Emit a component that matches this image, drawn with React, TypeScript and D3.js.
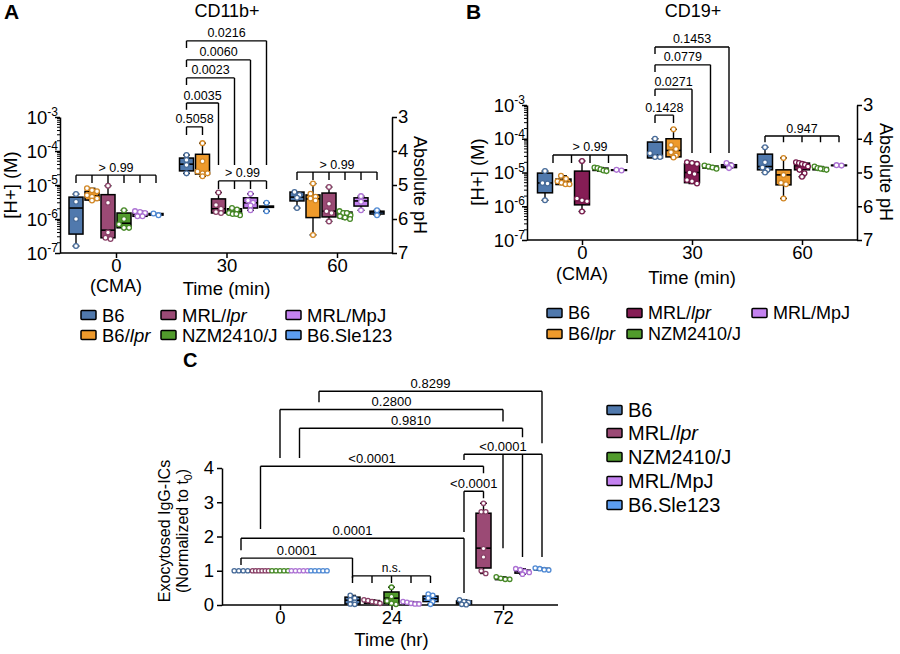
import { useEffect, useRef } from 'react'
import * as d3 from 'd3'

const timesAB = ['0', '30', '60']
const timesC = ['0', '24', '72']
const strainsA = ['B6', 'B6/lpr', 'MRL/lpr', 'NZM2410/J', 'MRL/MpJ', 'B6.Sle123']
const strainsB = ['B6', 'B6/lpr', 'MRL/lpr', 'NZM2410/J', 'MRL/MpJ']
const strainsC = ['B6', 'MRL/lpr', 'NZM2410/J', 'MRL/MpJ', 'B6.Sle123']

const strainColor: Record<string, string> = {
  B6: '#5079ad',
  'B6/lpr': '#ee9a2c',
  'MRL/lpr': '#9b4a75',
  'NZM2410/J': '#519b2c',
  'MRL/MpJ': '#c482f0',
  'B6.Sle123': '#5b9cf0',
}
const strainColorB: Record<string, string> = { ...strainColor, 'MRL/lpr': '#861d55' }

type Box = { q: number[]; pts: number[] }

// CD11b+ [H+] (M): q = [q1, median, q3]
const cd11b_0: Box[] = [
  { q: [3.6e-7, 2.1e-6, 4.4e-6], pts: [5.4e-6, 3.2e-6, 1.0e-6, 1.6e-7] },
  { q: [3.6e-6, 4.8e-6, 6.5e-6], pts: [8.0e-6, 7.0e-6, 6.5e-6, 5.0e-6, 4.5e-6, 4.0e-6, 3.5e-6] },
  { q: [2.8e-7, 4.7e-7, 5.2e-6], pts: [9.5e-6, 3.0e-6, 4.0e-7, 2.8e-7, 2.6e-7] },
  { q: [5.5e-7, 7.5e-7, 1.5e-6], pts: [1.8e-6, 1.0e-6, 7.0e-7, 5.5e-7, 5.5e-7] },
  { q: [1.2e-6, 1.4e-6, 1.6e-6], pts: [1.7e-6, 1.6e-6, 1.5e-6, 1.2e-6, 1.2e-6] },
  { q: [1.3e-6, 1.4e-6, 1.45e-6], pts: [1.45e-6, 1.3e-6] },
]
const cd11b_30: Box[] = [
  { q: [2.6e-5, 4.1e-5, 6.2e-5], pts: [7.6e-5, 5.4e-5, 3.9e-5, 2.2e-5] },
  { q: [2.1e-5, 2.4e-5, 8.0e-5], pts: [1.7e-4, 5.0e-5, 2.5e-5, 2.2e-5, 2.2e-5, 1.8e-5] },
  { q: [1.5e-6, 2.0e-6, 3.9e-6], pts: [6.0e-6, 2.6e-6, 2.0e-6, 1.6e-6, 1.5e-6] },
  { q: [1.4e-6, 1.6e-6, 2.0e-6], pts: [2.1e-6, 1.9e-6, 1.5e-6, 1.4e-6, 1.3e-6, 1.4e-6] },
  { q: [2.1e-6, 3.0e-6, 4.2e-6], pts: [5.5e-6, 3.5e-6, 3.0e-6, 2.5e-6, 1.8e-6] },
  { q: [2.2e-6, 2.3e-6, 2.4e-6], pts: [3.0e-6, 1.7e-6] },
]
const cd11b_60: Box[] = [
  { q: [3.4e-6, 4.4e-6, 6.2e-6], pts: [6.2e-6, 5.1e-6, 4.2e-6, 2.1e-6] },
  { q: [1.1e-6, 3.9e-6, 5.1e-6], pts: [1.1e-5, 5.5e-6, 4.5e-6, 4.0e-6, 3.5e-6, 3.4e-7] },
  { q: [1.15e-6, 1.7e-6, 5.8e-6], pts: [8.7e-6, 2.8e-6, 1.7e-6, 1.5e-6, 8.5e-7] },
  { q: [1.1e-6, 1.2e-6, 1.6e-6], pts: [1.7e-6, 1.5e-6, 1.3e-6, 1.2e-6, 1.1e-6, 1.0e-6, 1.5e-6] },
  { q: [2.4e-6, 3.4e-6, 4.2e-6], pts: [4.7e-6, 3.2e-6, 1.8e-6] },
  { q: [1.4e-6, 1.6e-6, 1.7e-6], pts: [1.8e-6, 1.3e-6] },
]

// CD19+ [H+] (M)
const cd19_0: Box[] = [
  { q: [2.5e-6, 4.9e-6, 9.6e-6], pts: [1.1e-5, 4.9e-6, 4.7e-6, 1.5e-6] },
  { q: [4.4e-6, 5.2e-6, 6.4e-6], pts: [8.0e-6, 6.5e-6, 5.5e-6, 5.0e-6, 4.5e-6, 4.5e-6] },
  { q: [1.1e-6, 1.5e-6, 1.1e-5], pts: [2.2e-5, 1.7e-6, 1.5e-6, 1.4e-6, 7.0e-7] },
  { q: [1.15e-5, 1.25e-5, 1.35e-5], pts: [1.4e-5, 1.35e-5, 1.25e-5, 1.15e-5, 1.1e-5] },
  { q: [1.15e-5, 1.18e-5, 1.2e-5], pts: [1.2e-5, 1.15e-5] },
]
const cd19_30: Box[] = [
  { q: [2.7e-5, 3.3e-5, 8.0e-5], pts: [1.0e-4, 3.7e-5, 2.9e-5, 2.9e-5] },
  { q: [2.9e-5, 4.5e-5, 1.0e-4], pts: [1.9e-4, 6.5e-5, 5.0e-5, 4.0e-5, 3.2e-5, 2.8e-5] },
  { q: [5.0e-6, 1.0e-5, 1.8e-5], pts: [2.0e-5, 1.9e-5, 1.8e-5, 1.0e-5, 9.0e-6, 6.0e-6, 5.5e-6, 4.7e-6] },
  { q: [1.35e-5, 1.45e-5, 1.55e-5], pts: [1.6e-5, 1.5e-5, 1.4e-5, 1.3e-5] },
  { q: [1.4e-5, 1.55e-5, 1.7e-5], pts: [1.9e-5, 1.6e-5, 1.35e-5] },
]
const cd19_60: Box[] = [
  { q: [1.2e-5, 1.5e-5, 3.5e-5], pts: [5.6e-5, 2.0e-5, 1.4e-5, 1.2e-5, 1.0e-5] },
  { q: [4.3e-6, 8.5e-6, 1.2e-5], pts: [2.7e-5, 8.5e-6, 5.0e-6, 4.5e-6, 1.7e-6] },
  { q: [1.2e-5, 1.6e-5, 1.9e-5], pts: [2.0e-5, 1.9e-5, 1.8e-5, 1.7e-5, 1.5e-5, 1.2e-5, 9.5e-6, 7.5e-6] },
  { q: [1.2e-5, 1.3e-5, 1.4e-5], pts: [1.5e-5, 1.35e-5, 1.25e-5, 1.2e-5, 1.3e-5] },
  { q: [1.6e-5, 1.62e-5, 1.65e-5], pts: [1.65e-5, 1.6e-5] },
]

// Exocytosed IgG-ICs (normalized to t0)
const exo_0: Box[] = [
  { q: [1, 1, 1], pts: [1, 1, 1, 1] },
  { q: [1, 1, 1], pts: [1, 1, 1, 1, 1, 1] },
  { q: [1, 1, 1], pts: [1, 1, 1, 1, 1] },
  { q: [1, 1, 1], pts: [1, 1, 1, 1, 1] },
  { q: [1, 1, 1], pts: [1, 1, 1, 1, 1] },
]
const exo_24: Box[] = [
  { q: [0.03, 0.14, 0.23], pts: [0.28, 0.2, 0.15, 0.08, 0.03, 0.02] },
  { q: [0.05, 0.1, 0.13], pts: [0.15, 0.13, 0.1, 0.08, 0.05] },
  { q: [0.05, 0.2, 0.38], pts: [0.52, 0.25, 0.12, 0.05, 0.02] },
  { q: [0.03, 0.06, 0.08], pts: [0.1, 0.08, 0.05, 0.03, 0.03] },
  { q: [0.1, 0.18, 0.26], pts: [0.32, 0.28, 0.2, 0.1, 0.02] },
]
const exo_72: Box[] = [
  { q: [0.03, 0.08, 0.12], pts: [0.15, 0.1, 0.08, 0.02, 0.01] },
  { q: [1.08, 1.66, 2.68], pts: [2.97, 2.72, 2.72, 1.65, 1.4, 1.0, 0.92] },
  { q: [0.74, 0.77, 0.8], pts: [0.82, 0.78, 0.75, 0.75] },
  { q: [0.93, 0.98, 1.02], pts: [1.06, 1.03, 0.98, 0.95, 0.9] },
  { q: [1.02, 1.05, 1.07], pts: [1.08, 1.06, 1.03, 1.02] },
]

// significance brackets: ticks = [timeIndex, strainIndex]; top/legs in axis units (log10 for A, B)
type Bracket = { p: string; ticks: number[][]; top: number; legs: number[]; dx?: number }

const bracketsA: Bracket[] = [
  { p: '> 0.99', ticks: [[0, 0], [0, 1], [0, 2], [0, 3], [0, 4], [0, 5]], top: -4.71, legs: [-4.94, -4.94, -4.94, -4.94, -4.94, -4.94] },
  { p: '0.5058', ticks: [[1, 0], [1, 1]], top: -3.29, legs: [-3.53, -3.53] },
  { p: '0.0035', ticks: [[1, 0], [1, 2]], top: -2.59, legs: [-2.79, -4.41] },
  { p: '0.0023', ticks: [[1, 0], [1, 3]], top: -1.85, legs: [-2.06, -4.41] },
  { p: '0.0060', ticks: [[1, 0], [1, 4]], top: -1.32, legs: [-1.53, -4.41] },
  { p: '0.0216', ticks: [[1, 0], [1, 5]], top: -0.76, legs: [-0.97, -4.41] },
  { p: '> 0.99', ticks: [[1, 2], [1, 3], [1, 4], [1, 5]], top: -4.88, legs: [-5.12, -5.12, -5.12, -5.12] },
  { p: '> 0.99', ticks: [[2, 0], [2, 1], [2, 2], [2, 3], [2, 4], [2, 5]], top: -4.62, legs: [-4.85, -4.85, -4.85, -4.85, -4.85, -4.85] },
]
const bracketsB: Bracket[] = [
  { p: '> 0.99', ticks: [[0, 0], [0, 1], [0, 2], [0, 3], [0, 4]], top: -4.48, legs: [-4.72, -4.72, -4.72, -4.72, -4.72], dx: 8 },
  { p: '0.1428', ticks: [[1, 0], [1, 1]], top: -3.3, legs: [-3.53, -3.53] },
  { p: '0.0271', ticks: [[1, 0], [1, 2]], top: -2.53, legs: [-2.73, -4.42] },
  { p: '0.0779', ticks: [[1, 0], [1, 3]], top: -1.81, legs: [-2.02, -4.42] },
  { p: '0.1453', ticks: [[1, 0], [1, 4]], top: -1.28, legs: [-1.49, -4.42] },
  { p: '0.947', ticks: [[2, 0], [2, 1], [2, 2], [2, 3], [2, 4]], top: -3.92, legs: [-4.1, -4.1, -4.1, -4.1, -4.1] },
]
const bracketsC: Bracket[] = [
  { p: '0.0001', ticks: [[0, 0], [1, 0]], top: 1.37, legs: [1.17, 0.79] },
  { p: '0.0001', ticks: [[0, 0], [2, 0]], top: 1.95, legs: [1.6, 0.35] },
  { p: 'n.s.', ticks: [[1, 0], [1, 1], [1, 2], [1, 3], [1, 4]], top: 0.85, legs: [0.64, 0.64, 0.64, 0.64, 0.64] },
  { p: '<0.0001', ticks: [[2, 0], [2, 1]], top: 3.32, legs: [2.13, 3.12] },
  { p: '<0.0001', ticks: [[2, 0], [2, 2], [2, 3], [2, 4]], top: 4.4, legs: [4.23, 1.66, 1.4, 1.4] },
  { p: '<0.0001', ticks: [[0, 1], [2, 1]], top: 4.05, legs: [2.22, 3.85] },
  { p: '0.9810', ticks: [[0, 3], [2, 3]], top: 5.16, legs: [4.29, 4.9] },
  { p: '0.2800', ticks: [[0, 2], [2, 2]], top: 5.71, legs: [4.29, 5.36] },
  { p: '0.8299', ticks: [[0, 4], [2, 4]], top: 6.24, legs: [5.92, 4.72] },
]

const FONT = '"Liberation Sans", Arial, Helvetica, sans-serif'

type Sel = d3.Selection<SVGGElement, unknown, null, undefined>

function strainText(t: d3.Selection<SVGTextElement, unknown, null, undefined>, name: string) {
  const m = name.match(/^(.*\/)(lpr)$/)
  if (m) {
    t.append('tspan').text(m[1])
    t.append('tspan').attr('font-style', 'italic').text(m[2])
  } else {
    t.text(name)
  }
}

// spread points of equal height sideways, prism style
function swarm(ys: number[], gap: number, maxW: number) {
  const idx = ys.map((_, i) => i).sort((a, b) => ys[a] - ys[b])
  const out = new Array(ys.length).fill(0)
  let row: number[] = []
  const flush = () => {
    const n = row.length
    const step = n > 1 ? Math.min(gap, maxW / (n - 1)) : 0
    row.forEach((k, j) => (out[k] = (j - (n - 1) / 2) * step))
    row = []
  }
  idx.forEach((k) => {
    if (row.length && ys[k] - ys[row[0]] > gap * 0.9) flush()
    row.push(k)
  })
  flush()
  return out
}

interface PanelOpts {
  data: Box[][]
  times: string[]
  strains: string[]
  x: d3.ScalePoint<string>
  off: d3.ScalePoint<string>
  y: (v: number) => number
  colors: Record<string, string>
  boxW: number
  r: number
  gap: number
  maxW: number
}

function drawBoxes(g: Sel, o: PanelOpts) {
  o.data.forEach((col, ti) => {
    col.forEach((b, si) => {
      const name = o.strains[si]
      const cx = o.x(o.times[ti])! + o.off(name)!
      const c = o.colors[name]
      const [q1, med, q3] = b.q
      const lo = d3.min(b.pts)!
      const hi = d3.max(b.pts)!
      const bg = g.append('g')
      const wh = (a: number, z: number) => {
        bg.append('line').attr('x1', cx).attr('x2', cx).attr('y1', o.y(a)).attr('y2', o.y(z))
          .attr('stroke', '#000').attr('stroke-width', 1.4)
        bg.append('line').attr('x1', cx - 3.5).attr('x2', cx + 3.5).attr('y1', o.y(z)).attr('y2', o.y(z))
          .attr('stroke', '#000').attr('stroke-width', 1.4)
      }
      if (hi > q3) wh(q3, hi)
      if (lo < q1) wh(q1, lo)
      if (q3 > q1) {
        bg.append('rect')
          .attr('x', cx - o.boxW / 2)
          .attr('y', o.y(q3))
          .attr('width', o.boxW)
          .attr('height', o.y(q1) - o.y(q3))
          .attr('fill', c)
          .attr('stroke', '#000')
          .attr('stroke-width', 1.5)
        bg.append('line').attr('x1', cx - o.boxW / 2).attr('x2', cx + o.boxW / 2)
          .attr('y1', o.y(med)).attr('y2', o.y(med)).attr('stroke', '#000').attr('stroke-width', 1.6)
      } else {
        bg.append('line').attr('x1', cx - o.boxW / 2 - 1).attr('x2', cx + o.boxW / 2 + 1)
          .attr('y1', o.y(med)).attr('y2', o.y(med)).attr('stroke', c).attr('stroke-width', 2)
      }
      const ys = b.pts.map((v) => o.y(v))
      const dx = swarm(ys, o.gap, o.maxW)
      const stroke = d3.color(c)!.darker(0.35).formatHex()
      bg.selectAll('circle')
        .data(ys)
        .join('circle')
        .attr('cx', (_, i) => cx + dx[i])
        .attr('cy', (d) => d)
        .attr('r', o.r)
        .attr('fill', '#fff')
        .attr('stroke', stroke)
        .attr('stroke-width', 1.3)
    })
  })
}

function drawBrackets(g: Sel, list: Bracket[], o: PanelOpts, by: (v: number) => number, size: number) {
  list.forEach((b) => {
    const xs = b.ticks.map(([t, s]) => o.x(o.times[t])! + o.off(o.strains[s])! + (b.dx || 0))
    const yt = by(b.top)
    const x0 = d3.min(xs)!
    const x1 = d3.max(xs)!
    const p = d3.path()
    p.moveTo(x0, yt)
    p.lineTo(x1, yt)
    xs.forEach((xx, i) => {
      p.moveTo(xx, yt)
      p.lineTo(xx, by(b.legs[i]))
    })
    g.append('path').attr('d', p.toString()).attr('fill', 'none').attr('stroke', '#000').attr('stroke-width', 1.4)
    g.append('text')
      .attr('x', (x0 + x1) / 2)
      .attr('y', yt - 3.5)
      .attr('text-anchor', 'middle')
      .attr('font-size', b.p === 'n.s.' ? 12 : size)
      .text(b.p)
  })
}

function styleAxis(a: Sel) {
  a.selectAll('path,line').attr('stroke', '#000').attr('stroke-width', 1.5)
  a.attr('font-family', FONT)
}

function logAxis(svg: Sel, y: d3.ScaleLogarithmic<number, number>, ax: number) {
  const a = svg.append('g').attr('transform', `translate(${ax},0)`)
  a.call(d3.axisLeft(y).tickValues([1e-7, 1e-6, 1e-5, 1e-4, 1e-3]).tickSize(5).tickSizeOuter(0).tickFormat(() => ''))
  const minor: number[] = []
  for (let e = -7; e < -3; e++) for (let m = 2; m < 10; m++) minor.push(m * 10 ** e)
  a.selectAll('line.minor')
    .data(minor)
    .join('line')
    .attr('class', 'minor')
    .attr('x1', -3)
    .attr('x2', 0)
    .attr('y1', (d) => y(d))
    .attr('y2', (d) => y(d))
  styleAxis(a)
  a.selectAll('line.minor').attr('stroke-width', 1)
  ;[-7, -6, -5, -4, -3].forEach((e) => {
    const t = a.append('text').attr('x', -2).attr('y', y(10 ** e) + 6.5).attr('text-anchor', 'end')
      .attr('font-size', 18.5).attr('fill', '#000')
    t.append('tspan').text('10')
    t.append('tspan').attr('dy', -7.5).attr('font-size', 12).text(`-${-e}`)
  })
}

function phAxis(svg: Sel, ph: d3.ScaleLinear<number, number>, ax: number) {
  const a = svg.append('g').attr('transform', `translate(${ax},0)`)
  a.call(d3.axisRight(ph).tickValues([3, 4, 5, 6, 7]).tickSize(5).tickSizeOuter(0).tickPadding(1).tickFormat(d3.format('d')))
  styleAxis(a)
  a.selectAll('text').attr('font-size', 18.5).attr('fill', '#000')
}

function timeAxis(svg: Sel, x: d3.ScalePoint<string>, yb: number, xl: number, xr: number) {
  const a = svg.append('g').attr('transform', `translate(0,${yb})`)
  a.call(d3.axisBottom(x).tickSize(5).tickPadding(1))
  a.select('.domain').remove()
  a.append('line').attr('x1', xl).attr('x2', xr).attr('y1', 0).attr('y2', 0)
  styleAxis(a)
  a.selectAll('text').attr('font-size', 18.5).attr('fill', '#000')
}

function legend(svg: Sel, names: string[], colors: Record<string, string>, cols: number[], rows: number[], size: number, column = true) {
  names.forEach((n, i) => {
    const ci = column ? Math.floor(i / rows.length) : 0
    const ri = column ? i % rows.length : i
    const tx = cols[ci]
    const cy = rows[ri]
    svg.append('rect').attr('x', tx - 21).attr('y', cy - 4.5).attr('width', 15).attr('height', 9).attr('rx', 1)
      .attr('fill', colors[n]).attr('stroke', '#000').attr('stroke-width', 1.5)
    const t = svg.append('text').attr('x', tx).attr('y', cy + size * 0.36).attr('font-size', size)
    strainText(t, n)
  })
}

function rotated(svg: Sel, x: number, y: number, angle: number, size: number) {
  return svg.append('text').attr('transform', `translate(${x},${y}) rotate(${angle})`)
    .attr('text-anchor', 'middle').attr('font-size', size)
}

export default function App() {
  const svgRef = useRef<SVGSVGElement>(null)

  useEffect(() => {
    if (!svgRef.current) return
    const root = d3.select(svgRef.current)
    root.selectAll('*').remove()
    const svg = root.append('g').attr('font-family', FONT).attr('fill', '#000') as unknown as Sel

    // ---------- panel A ----------
    const yA = d3.scaleLog().domain([1e-7, 1e-3]).range([253, 117])
    const phA = d3.scaleLinear().domain([7, 3]).range([253, 117])
    const xA = d3.scalePoint<string>().domain(timesAB).range([116, 337])
    const offA = d3.scalePoint<string>().domain(strainsA).range([-40, 40])
    const optsA: PanelOpts = {
      data: [cd11b_0, cd11b_30, cd11b_60], times: timesAB, strains: strainsA, x: xA, off: offA,
      y: yA, colors: strainColor, boxW: 14, r: 2.4, gap: 5, maxW: 11,
    }
    logAxis(svg, yA, 60)
    phAxis(svg, phA, 392)
    timeAxis(svg, xA, 253, 60, 392)
    drawBoxes(svg, optsA)
    drawBrackets(svg, bracketsA, optsA, (e) => yA(10 ** e), 12.5)
    svg.append('text').attr('x', 4).attr('y', 19).attr('font-size', 21).attr('font-weight', 'bold').text('A')
    svg.append('text').attr('x', 227).attr('y', 17).attr('text-anchor', 'middle').attr('font-size', 18).text('CD11b+')
    rotated(svg, 17, 185, -90, 18.5).text('[H+] (M)')
    rotated(svg, 414, 185, 90, 18).text('Absolute pH')
    svg.append('text').attr('x', xA('0')!).attr('y', 292).attr('text-anchor', 'middle').attr('font-size', 18).text('(CMA)')
    svg.append('text').attr('x', xA('30')!).attr('y', 295).attr('text-anchor', 'middle').attr('font-size', 18.5).text('Time (min)')
    legend(svg, strainsA, strainColor, [102, 182, 307], [315, 335], 18.5)

    // ---------- panel B ----------
    const yB = d3.scaleLog().domain([1e-7, 1e-3]).range([240, 105])
    const phB = d3.scaleLinear().domain([7, 3]).range([240, 105])
    const xB = d3.scalePoint<string>().domain(timesAB).range([582, 802])
    const offB = d3.scalePoint<string>().domain(strainsB).range([-37, 37])
    const optsB: PanelOpts = {
      data: [cd19_0, cd19_30, cd19_60], times: timesAB, strains: strainsB, x: xB, off: offB,
      y: yB, colors: strainColorB, boxW: 15, r: 2.4, gap: 5, maxW: 12,
    }
    logAxis(svg, yB, 527)
    phAxis(svg, phB, 857)
    timeAxis(svg, xB, 240, 527, 857)
    drawBoxes(svg, optsB)
    drawBrackets(svg, bracketsB, optsB, (e) => yB(10 ** e), 12.5)
    svg.append('text').attr('x', 466).attr('y', 19).attr('font-size', 21).attr('font-weight', 'bold').text('B')
    svg.append('text').attr('x', 693).attr('y', 17).attr('text-anchor', 'middle').attr('font-size', 18).text('CD19+')
    rotated(svg, 484, 172, -90, 18.5).text('[H+] (M)')
    rotated(svg, 880, 172, 90, 18).text('Absolute pH')
    svg.append('text').attr('x', xB('0')!).attr('y', 280).attr('text-anchor', 'middle').attr('font-size', 18).text('(CMA)')
    svg.append('text').attr('x', xB('30')!).attr('y', 284).attr('text-anchor', 'middle').attr('font-size', 18.5).text('Time (min)')
    legend(svg, strainsB, strainColorB, [568, 648, 773], [313, 334], 18)

    // ---------- panel C ----------
    const yC = d3.scaleLinear().domain([0, 4]).range([605, 468])
    const xC = d3.scalePoint<string>().domain(timesC).range([280, 503])
    const offC = d3.scalePoint<string>().domain(strainsC).range([-39, 39])
    const optsC: PanelOpts = {
      data: [exo_0, exo_24, exo_72], times: timesC, strains: strainsC, x: xC, off: offC,
      y: yC, colors: strainColor, boxW: 15, r: 2.2, gap: 4.5, maxW: 16,
    }
    const aC = svg.append('g').attr('transform', 'translate(222,0)')
    aC.call(d3.axisLeft(yC).ticks(4).tickSize(5).tickSizeOuter(0).tickPadding(3))
    styleAxis(aC)
    aC.selectAll('text').attr('font-size', 18.5).attr('fill', '#000')
    timeAxis(svg, xC, 605, 222, 558)
    drawBoxes(svg, optsC)
    drawBrackets(svg, bracketsC, optsC, yC, 13)
    svg.append('text').attr('x', 183).attr('y', 367).attr('font-size', 20).attr('font-weight', 'bold').text('C')
    rotated(svg, 170, 531, -90, 16).text('Exocytosed IgG-ICs')
    const l2 = rotated(svg, 188, 531, -90, 16)
    l2.append('tspan').text('(Normalized to t')
    l2.append('tspan').attr('font-size', 10.5).attr('dy', 4).text('0')
    l2.append('tspan').attr('dy', -4).text(')')
    svg.append('text').attr('x', xC('24')!).attr('y', 646).attr('text-anchor', 'middle').attr('font-size', 18.5).text('Time (hr)')
    legend(svg, strainsC, strainColor, [628], [410, 433, 457, 481, 505], 20, false)
  }, [])

  return (
    <svg
      ref={svgRef}
      width={900}
      height={654}
      style={{ position: 'absolute', left: 0, top: 0, background: '#fff' }}
    />
  )
}
